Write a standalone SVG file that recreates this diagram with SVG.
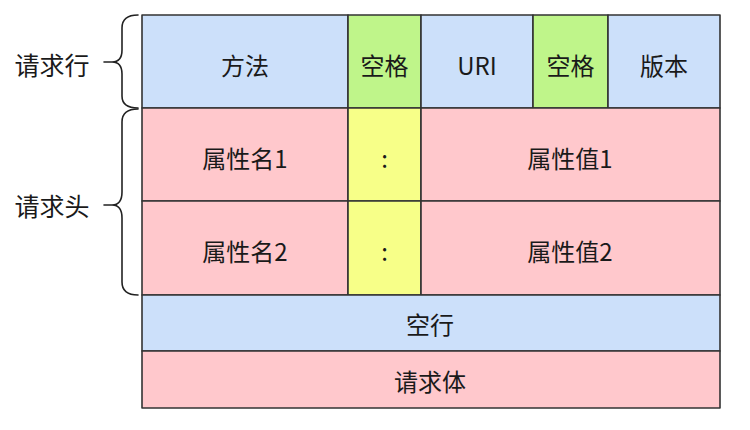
<svg xmlns="http://www.w3.org/2000/svg" width="750" height="430" viewBox="0 0 750 430">
<style>
.b{stroke:#333;stroke-width:1.6;stroke-linejoin:round}
.blue{fill:#cce0fa}
.green{fill:#bff58a}
.yellow{fill:#f7ff88}
.pink{fill:#ffc8cc}
text{font-family:"Noto Sans CJK SC","Liberation Sans",sans-serif;font-size:24px;font-weight:400;fill:#1a1a1a;text-anchor:middle;dominant-baseline:central}
.lbl{font-size:25px}
.brace{fill:none;stroke:#222;stroke-width:1.6;stroke-linecap:round}
</style>
<rect width="750" height="430" fill="#fff"/>
<g id="row-request-line">
<g id="method"><rect class="b blue" x="142" y="15" width="206" height="93"/><text x="245" y="64">方法</text></g>
<g id="space1"><rect class="b green" x="348" y="15" width="73" height="93"/><text x="384.5" y="64">空格</text></g>
<g id="uri"><rect class="b blue" x="421" y="15" width="112" height="93"/><text x="477" y="64">URI</text></g>
<g id="space2"><rect class="b green" x="533" y="15" width="75" height="93"/><text x="570.5" y="64">空格</text></g>
<g id="version"><rect class="b blue" x="608" y="15" width="112" height="93"/><text x="664" y="64">版本</text></g>
</g>
<g id="row-header1">
<g id="name1"><rect class="b pink" x="142" y="108" width="206" height="93"/><text x="245" y="157">属性名1</text></g>
<g id="colon1"><rect class="b yellow" x="348" y="108" width="73" height="93"/><text x="384.5" y="157">:</text></g>
<g id="value1"><rect class="b pink" x="421" y="108" width="299" height="93"/><text x="570" y="157">属性值1</text></g>
</g>
<g id="row-header2">
<g id="name2"><rect class="b pink" x="142" y="201" width="206" height="94"/><text x="245" y="250">属性名2</text></g>
<g id="colon2"><rect class="b yellow" x="348" y="201" width="73" height="94"/><text x="384.5" y="250">:</text></g>
<g id="value2"><rect class="b pink" x="421" y="201" width="299" height="94"/><text x="570" y="250">属性值2</text></g>
</g>
<g id="blank-line"><rect class="b blue" x="142" y="295" width="578" height="56"/><text x="430" y="323">空行</text></g>
<g id="body"><rect class="b pink" x="142" y="351" width="578" height="57"/><text x="430" y="380">请求体</text></g>
<g id="connectors">
<path class="brace" d="M138,15 Q122,15 122,28 L122,50 Q122,62 112,62 L104,62 M112,62 Q122,62 122,74 L122,96 Q122,108 138,108"/>
<path class="brace" d="M138,109 Q122,109 122,122 L122,192 Q122,205 112,205 L104,205 M112,205 Q122,205 122,218 L122,282 Q122,295 138,295"/>
</g>
<g id="label-request-line"><text class="lbl" x="52" y="64">请求行</text></g>
<g id="label-request-header"><text class="lbl" x="52" y="205">请求头</text></g>
</svg>
